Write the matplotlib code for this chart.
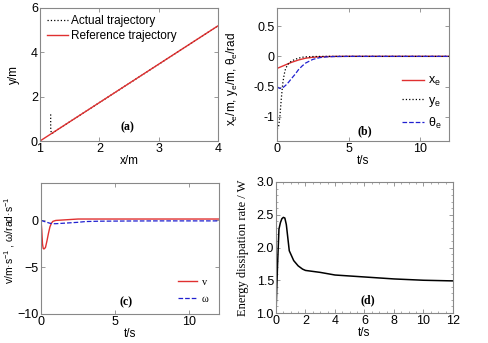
import matplotlib
matplotlib.use("Agg")
import matplotlib.pyplot as plt
import numpy as np

plt.rcParams['font.family'] = ['Liberation Sans', 'DejaVu Sans']
plt.rcParams['mathtext.fontset'] = 'custom'
plt.rcParams['mathtext.rm'] = 'Liberation Sans'
plt.rcParams['mathtext.it'] = 'Liberation Sans'
plt.rcParams['mathtext.default'] = 'regular'

# (a) trajectory
ref_x = [1.0, 4.0]
ref_y = [0.0, 5.196]
act_x = [1.18, 1.18, 1.19, 1.2, 1.3, 2.0, 3.0, 4.0]
act_y = [1.2, 0.6, 0.35, 0.33, 0.52, 1.73, 3.46, 5.196]

# (b) tracking errors
tb = [0, 0.1, 0.2, 0.3, 0.4, 0.5, 0.6, 0.8, 1.0, 1.25, 1.5, 1.75, 2.0, 2.5, 3.0, 3.5, 4.0, 5.0, 6.0, 8.0, 10.0, 12.0]
xe = [-0.2, -0.19, -0.18, -0.17, -0.16, -0.15, -0.14, -0.12, -0.1, -0.08, -0.06, -0.045, -0.03, -0.015, -0.007, -0.003, -0.001, 0, 0, 0, 0, 0]
ye = [-1.2, -1.18, -1.0, -0.7, -0.45, -0.3, -0.2, -0.12, -0.08, -0.05, -0.03, -0.015, -0.008, -0.003, -0.001, 0, 0, 0, 0, 0, 0, 0]
the = [-0.5, -0.52, -0.53, -0.53, -0.52, -0.5, -0.48, -0.43, -0.37, -0.3, -0.22, -0.16, -0.11, -0.05, -0.02, -0.008, -0.003, 0, 0, 0, 0, 0]

# (c) control inputs
tc = [0, 0.05, 0.1, 0.15, 0.2, 0.3, 0.4, 0.5, 0.6, 0.7, 0.8, 1.0, 1.5, 2.0, 2.5, 3.0, 4.0, 6.0, 8.0, 10.0, 12.0]
v = [0, -1.0, -2.5, -3.0, -3.05, -2.9, -2.2, -1.4, -0.7, -0.3, -0.1, 0.0, 0.05, 0.1, 0.15, 0.15, 0.15, 0.15, 0.15, 0.15, 0.15]
w = [0, -0.02, -0.05, -0.08, -0.1, -0.15, -0.2, -0.25, -0.3, -0.33, -0.35, -0.35, -0.3, -0.25, -0.2, -0.12, -0.08, -0.06, -0.05, -0.05, -0.05]

# (d) energy dissipation rate
td = [0, 0.1, 0.2, 0.3, 0.4, 0.5, 0.6, 0.7, 0.8, 0.9, 1.0, 1.2, 1.5, 1.8, 2.0, 3.0, 4.0, 6.0, 8.0, 10.0, 12.0]
pd_ = [1.0, 1.7, 2.28, 2.38, 2.44, 2.46, 2.45, 2.35, 2.15, 1.95, 1.9, 1.8, 1.72, 1.67, 1.65, 1.62, 1.58, 1.55, 1.52, 1.5, 1.49]

fig = plt.figure(figsize=(4.89, 3.43), dpi=100)
W, H = 489, 343

def mkax(l, t, r, b):
    ax = fig.add_axes([l / W, 1 - b / H, (r - l) / W, (b - t) / H])
    for s in ax.spines.values():
        s.set_color('#888888')
        s.set_linewidth(0.8)
    ax.tick_params(direction='in', top=True, right=True, length=3, width=0.6,
                   color='#888888', labelsize=9, pad=1.5)
    return ax

axa = mkax(40, 8, 218, 141)
axb = mkax(277, 8, 449, 141)
axc = mkax(41, 183, 219, 314)
axd = mkax(276, 182, 453, 313)

lab = dict(fontsize=8.5)
pan = dict(fontsize=8.5, fontweight='bold', family='Liberation Serif', ha='center', va='center')

# (a)
axa.plot(act_x, act_y, color='black', ls=':', lw=0.9, label='Actual trajectory')
axa.plot(ref_x, ref_y, color='#e03030', lw=1.0, label='Reference trajectory')
axa.set_xlim(1, 4)
axa.set_ylim(0, 6)
axa.set_xticks([1, 2, 3, 4])
axa.set_yticks([0, 2, 4, 6])
axa.set_xlabel('x/m', labelpad=0, **lab)
axa.set_ylabel('y/m', **lab)
axa.yaxis.set_label_coords(-0.11, 0.5)
axa.legend(loc='upper left', frameon=False, fontsize=8.5, handlelength=1.8,
           handletextpad=0.2, labelspacing=0.25, borderaxespad=0.2)
axa.text(0.49, 0.1, '(a)', transform=axa.transAxes, **pan)

# (b)
axb.plot(tb, xe, color='#e03030', lw=1.0, label='x$_e$')
axb.plot(tb, ye, color='black', ls=':', lw=0.9, label='y$_e$')
axb.plot(tb, the, color='#2020d0', ls='--', lw=0.9, label='θ$_e$')
axb.set_xlim(0, 12)
axb.set_ylim(-1.4, 0.8)
axb.set_xticks([0, 5, 10])
axb.set_yticks([-1, -0.5, 0, 0.5])
axb.set_yticklabels(['-1', '-0.5', '0', '0.5'])
axb.set_xlabel('t/s', labelpad=0, **lab)
axb.set_ylabel('x$_e$/m, y$_e$/m, θ$_e$/rad', **lab)
axb.yaxis.set_label_coords(-0.215, 0.47)
axb.legend(loc='lower right', frameon=False, fontsize=9, handlelength=1.8,
           handletextpad=0.3, labelspacing=0.55, borderaxespad=0.2,
           bbox_to_anchor=(1.0, 0.02))
axb.text(0.51, 0.07, '(b)', transform=axb.transAxes, **pan)

# (c)
axc.plot(tc, v, color='#e03030', lw=1.0, label='v')
axc.plot(tc, w, color='#2020d0', ls='--', lw=0.9, label='ω')
axc.set_xlim(0, 12)
axc.set_ylim(-10, 4)
axc.set_xticks([0, 5, 10])
axc.set_yticks([-10, -5, 0])
axc.set_xlabel('t/s', labelpad=0, **lab)
axc.set_ylabel('v/m·s$^{-1}$ , ω/rad·s$^{-1}$', fontsize=7.5)
axc.yaxis.set_label_coords(-0.135, 0.56)
axc.legend(loc='lower right', frameon=False, handlelength=1.8,
           handletextpad=0.5, labelspacing=0.7, borderaxespad=0.6,
           prop={'family': 'Liberation Serif', 'size': 7.5})
axc.text(0.48, 0.086, '(c)', transform=axc.transAxes, **pan)

# (d)
axd.plot(td, pd_, color='black', lw=1.1)
axd.set_xlim(0, 12)
axd.set_ylim(1.0, 3.0)
axd.set_xticks(range(0, 13, 2))
axd.set_yticks([1.0, 1.5, 2.0, 2.5, 3.0])
axd.set_yticklabels(['1.0', '1.5', '2.0', '2.5', '3.0'])
axd.minorticks_on()
axd.tick_params(which='minor', direction='in', top=True, right=True, length=1.5,
                width=0.5, color='#888888')
axd.set_xlabel('t/s', labelpad=0, **lab)
axd.set_ylabel('Energy dissipation rate / W', fontsize=9, family='Liberation Serif')
axd.yaxis.set_label_coords(-0.15, 0.5)
axd.text(0.52, 0.097, '(d)', transform=axd.transAxes, **pan)

fig.savefig('out.png', dpi=100)
